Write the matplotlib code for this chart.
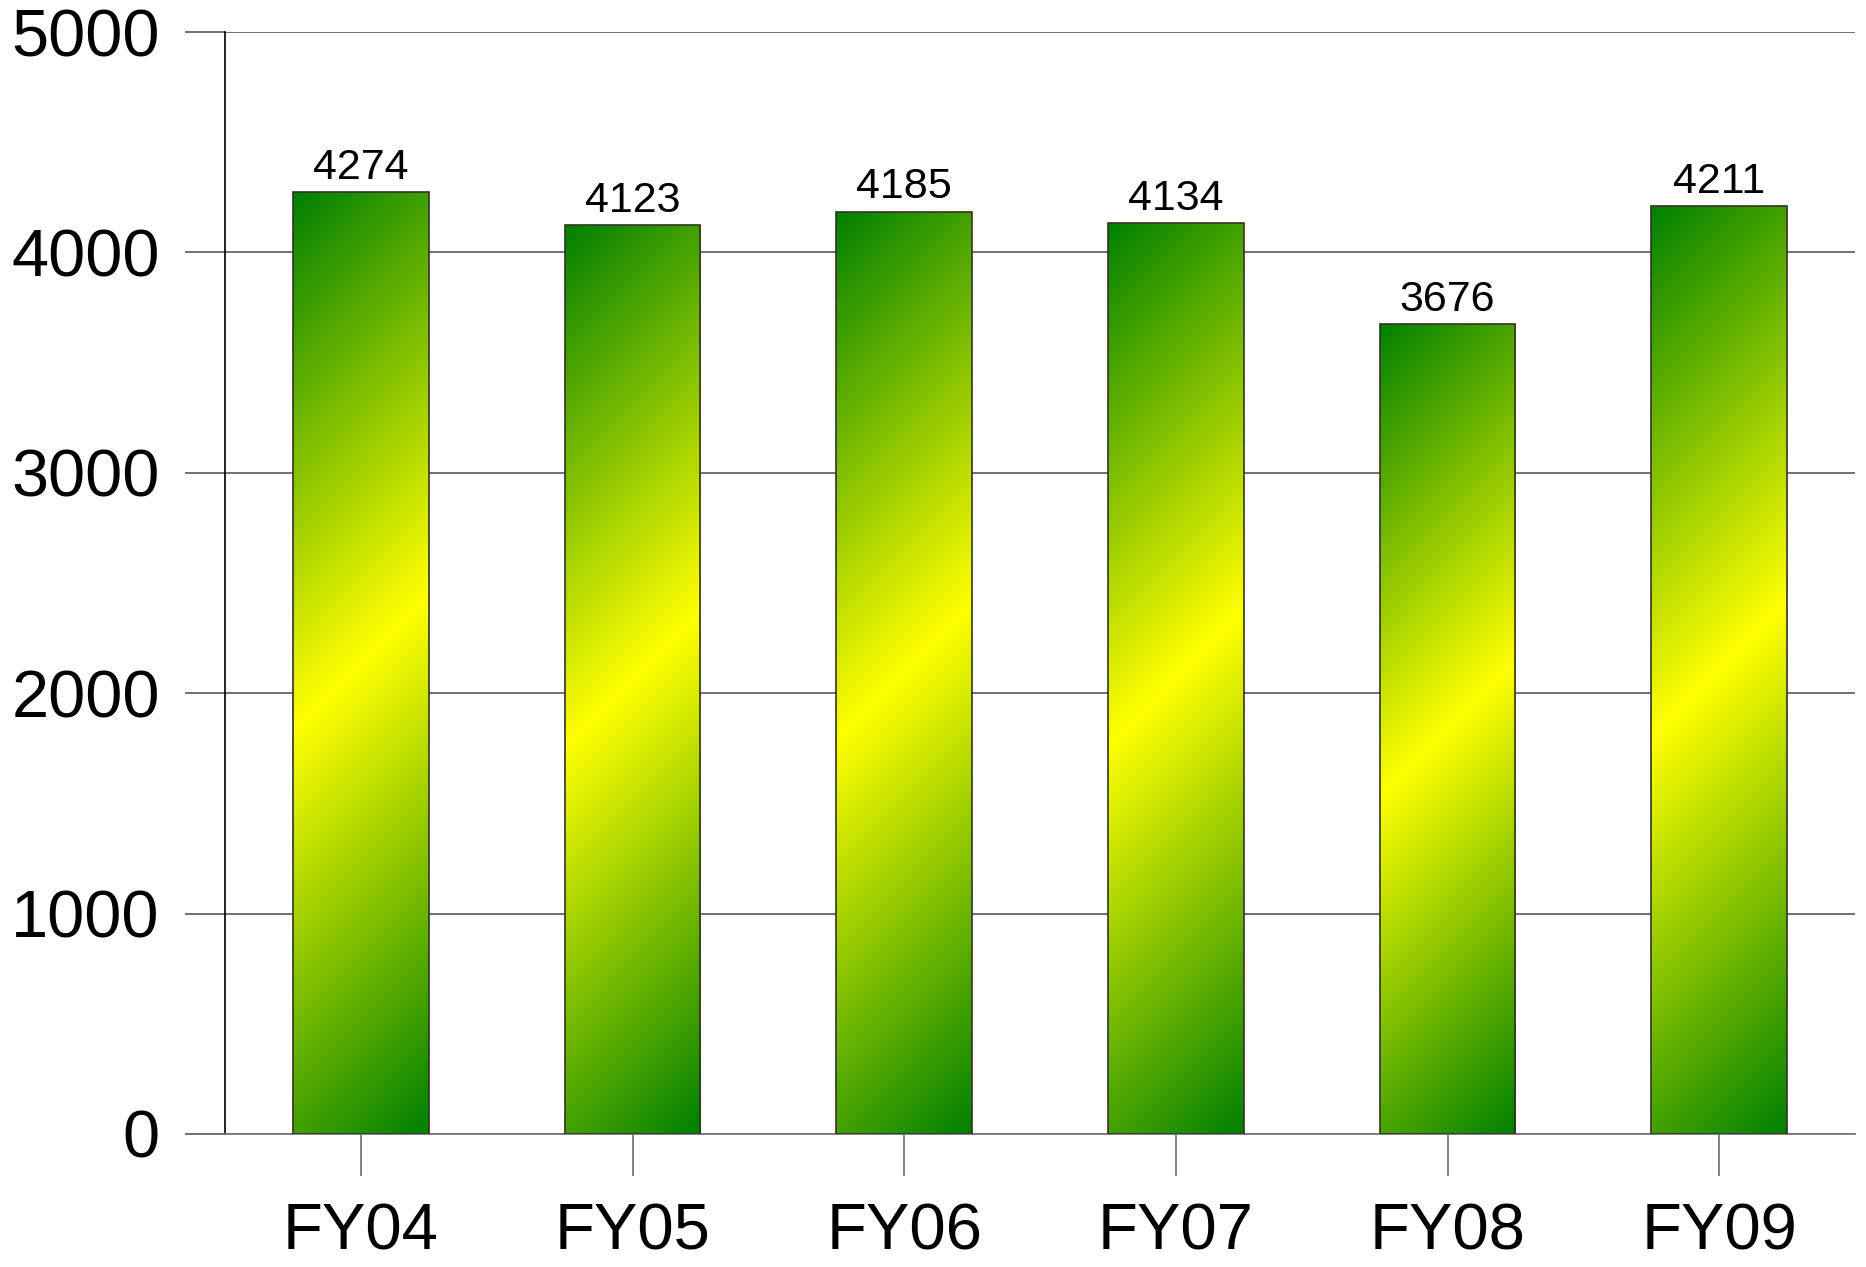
import numpy as np
import matplotlib
matplotlib.use("Agg")
import matplotlib.pyplot as plt
from matplotlib.colors import LinearSegmentedColormap

categories = ["FY04", "FY05", "FY06", "FY07", "FY08", "FY09"]
values = [4274, 4123, 4185, 4134, 3676, 4211]
y_ticks = [0, 1000, 2000, 3000, 4000, 5000]

plt.rcParams["font.family"] = ["Liberation Sans", "DejaVu Sans"]

fig = plt.figure(figsize=(18.66, 12.67), dpi=100)
ax = fig.add_axes([0.1206, 0.105, 0.9941 - 0.1206, 0.9747 - 0.105])

x = np.arange(len(categories))
bar_width = 0.5

ax.set_xlim(-0.5, len(categories) - 0.5)
ax.set_ylim(0, 5000)

# green -> yellow -> green, diagonal (45 deg on screen), centred on each bar
cmap = LinearSegmentedColormap.from_list("gy", ["#ffff00", "#008000"])

bars = ax.bar(
    x,
    values,
    width=bar_width,
    facecolor="none",
    edgecolor="#333322",
    linewidth=1.2,
    zorder=3,
)

fig.canvas.draw()
to_px = ax.transData.transform

for bar in bars:
    x0 = bar.get_x()
    x1 = x0 + bar.get_width()
    h = bar.get_height()
    (px0, py0), (px1, py1) = to_px([(x0, 0), (x1, h)])
    w_px = px1 - px0
    h_px = py1 - py0
    nx, ny = int(w_px) + 1, int(h_px) + 1
    gx = np.linspace(-w_px / 2, w_px / 2, nx)
    gy = np.linspace(h_px / 2, -h_px / 2, ny)  # row 0 = top
    X, Y = np.meshgrid(gx, gy)
    s = np.abs(X - Y) / (w_px / 2 + h_px / 2)
    img = ax.imshow(
        s,
        cmap=cmap,
        vmin=0,
        vmax=1,
        extent=(x0, x1, 0, h),
        origin="upper",
        aspect="auto",
        interpolation="bilinear",
        zorder=2,
    )
    img.set_clip_path(bar)

for xi, v in zip(x, values):
    ax.annotate(
        f"{v}",
        (xi, v),
        xytext=(0, 9.5),
        textcoords="offset points",
        ha="center",
        va="baseline",
        fontsize=31,
        zorder=4,
    )

ax.set_yticks(y_ticks)
ax.set_yticklabels([str(t) for t in y_ticks])
ax.set_xticks(x)
ax.set_xticklabels(categories)

ax.grid(axis="y", color="#666666", linewidth=1.3, zorder=1)
ax.set_axisbelow(True)

ax.tick_params(
    axis="y",
    direction="out",
    length=29,
    width=1.3,
    color="#666666",
    pad=18,
    labelsize=48,
)
ax.tick_params(
    axis="x",
    direction="out",
    length=30,
    width=1.3,
    color="#777777",
    pad=19,
    labelsize=47,
)

ax.spines["top"].set_visible(False)
ax.spines["right"].set_visible(False)
ax.spines["left"].set_color("black")
ax.spines["left"].set_linewidth(1.2)
ax.spines["bottom"].set_color("#777777")
ax.spines["bottom"].set_linewidth(1.3)

fig.savefig("out.png", dpi=100, facecolor="white")
plt.close(fig)
